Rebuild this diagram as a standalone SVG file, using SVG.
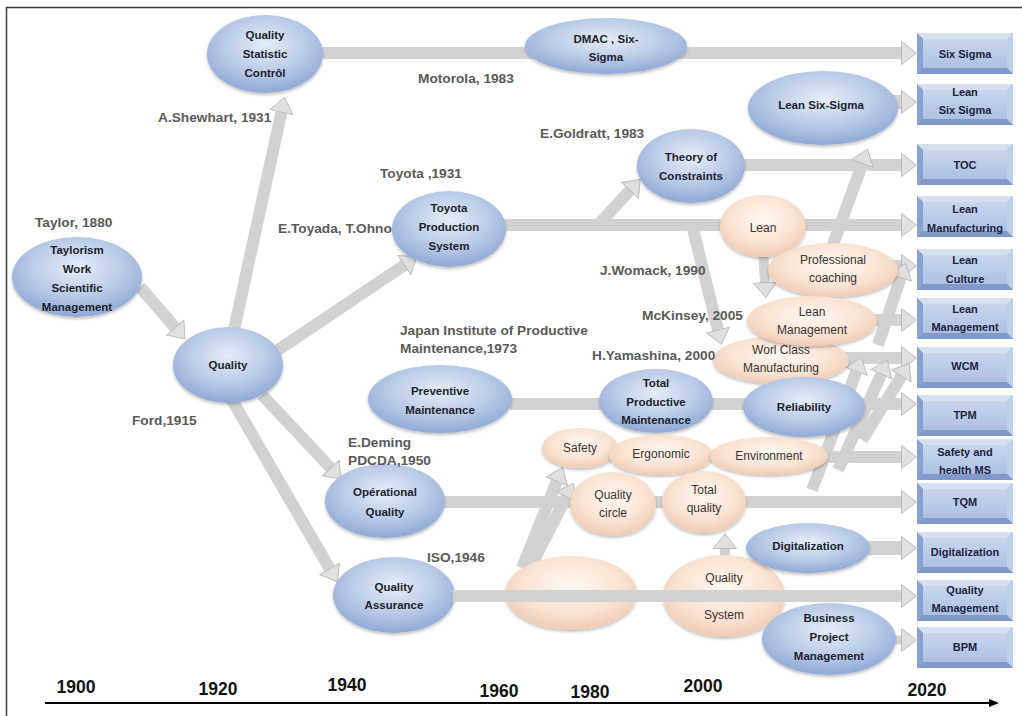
<svg xmlns="http://www.w3.org/2000/svg" xmlns:xlink="http://www.w3.org/1999/xlink" width="1022" height="716" viewBox="0 0 1022 716">
<style>
.eb{fill:url(#gBlue);filter:url(#sh)}
.ep{fill:url(#gPeach);filter:url(#sh)}
.n{font-family:"Liberation Sans",Arial,sans-serif;font-weight:bold;font-size:11.5px;fill:#1c1f2e;text-anchor:middle}
.p{font-family:"Liberation Sans",Arial,sans-serif;font-size:12px;fill:#3a322e;text-anchor:middle}
.b{font-family:"Liberation Sans",Arial,sans-serif;font-weight:bold;font-size:11px;fill:#1a2340;text-anchor:middle}
.l{font-family:"Liberation Sans",Arial,sans-serif;font-weight:bold;font-size:13.7px;fill:#5a5a5a}
.y{font-family:"Liberation Sans",Arial,sans-serif;font-weight:bold;font-size:17.5px;fill:#111;text-anchor:middle}
.c{stroke:#d2d2d2;stroke-width:12;fill:none;marker-end:url(#ah)}
</style>
<defs>
<radialGradient id="gBlue" cx="50%" cy="38%" r="62%">
<stop offset="0" stop-color="#e6edf8"/><stop offset="0.55" stop-color="#bccde9"/><stop offset="1" stop-color="#90a9d5"/>
</radialGradient>
<radialGradient id="gPeach" cx="50%" cy="40%" r="62%">
<stop offset="0" stop-color="#fff8f2"/><stop offset="0.6" stop-color="#fbe4d4"/><stop offset="1" stop-color="#efc9b0"/>
</radialGradient>
<linearGradient id="gBox" x1="0" y1="0" x2="0" y2="1">
<stop offset="0" stop-color="#c9d6ee"/><stop offset="1" stop-color="#adc1e4"/>
</linearGradient>
<filter id="sh" x="-10%" y="-10%" width="120%" height="130%">
<feDropShadow dx="0" dy="2" stdDeviation="1.5" flood-color="#000" flood-opacity="0.25"/>
</filter>
<marker id="ah" viewBox="0 0 16 24" refX="4" refY="12" markerWidth="16" markerHeight="24" markerUnits="userSpaceOnUse" orient="auto">
<path d="M0.5,0.5 L15.5,12 L0.5,23.5 Z" fill="#e0e0e0" stroke="#bdbdbd" stroke-width="1"/>
</marker>
<marker id="axh" viewBox="0 0 10 8" refX="1" refY="4" markerWidth="10" markerHeight="8" markerUnits="userSpaceOnUse" orient="auto">
<path d="M0,0 L10,4 L0,8 Z" fill="#000"/>
</marker>
<g id="box">
<rect x="0" y="0" width="96" height="41" fill="#9db3db"/>
<polygon points="0,0 96,0 90,6 6,6" fill="#d6e0f1"/>
<polygon points="0,0 6,6 6,35 0,41" fill="#8aa2cf"/>
<polygon points="96,0 96,41 90,35 90,6" fill="#c0cfea"/>
<polygon points="0,41 6,35 90,35 96,41" fill="#8199c9"/>
<rect x="6" y="6" width="84" height="29" fill="url(#gBox)"/>
</g>
</defs>
<rect x="0" y="0" width="1022" height="716" fill="#fff"/>
<rect x="6.5" y="7.5" width="1040" height="740" fill="none" stroke="#3a3a3a" stroke-width="1.5"/>

<g id="connectors">
<line class="c" x1="140" y1="287" x2="177.5" y2="330.2"/>
<line class="c" x1="234" y1="330" x2="282.2" y2="108.7"/>
<line class="c" x1="275" y1="352" x2="407.2" y2="263.2"/>
<line class="c" x1="262" y1="395" x2="333.1" y2="470.5"/>
<line class="c" x1="232" y1="400" x2="331.5" y2="571.8"/>
<line class="c" x1="320" y1="53" x2="905" y2="53"/>
<line class="c" x1="890" y1="102" x2="905" y2="102" style="stroke-width:14"/>
<line class="c" x1="743" y1="165" x2="905" y2="165"/>
<line class="c" x1="503" y1="225" x2="905" y2="225"/>
<line class="c" x1="598" y1="225" x2="632.4" y2="187.8"/>
<line class="c" x1="692" y1="225" x2="718.8" y2="333.4"/>
<line class="c" x1="763" y1="250" x2="765.2" y2="286" style="stroke-width:10"/>
<line class="c" x1="822" y1="275" x2="863.6" y2="160.2"/>
<line class="c" x1="890" y1="266" x2="905" y2="266"/>
<line class="c" x1="870" y1="320" x2="905" y2="320"/>
<line class="c" x1="845" y1="358" x2="905" y2="358"/>
<line class="c" x1="510" y1="404" x2="905" y2="404"/>
<line class="c" x1="826" y1="457" x2="905" y2="457"/>
<line class="c" x1="443" y1="502" x2="905" y2="502"/>
<line class="c" x1="866" y1="548" x2="905" y2="548" style="stroke-width:14"/>
<line class="c" x1="890" y1="640" x2="905" y2="640" style="stroke-width:9"/>
<line class="c" x1="812" y1="490" x2="857.5" y2="368.2"/>
<line class="c" x1="838" y1="470" x2="882.7" y2="370.9"/>
<line class="c" x1="862" y1="440" x2="903.2" y2="373.1"/>
<line class="c" x1="878" y1="345" x2="901.8" y2="274.3"/>
<line class="c" x1="522" y1="568" x2="558.2" y2="478.1"/>
<line class="c" x1="530" y1="568" x2="568.1" y2="493.6"/>
<line class="c" x1="725" y1="562" x2="725" y2="545" style="stroke-width:10"/>
</g>

<g id="n-taylorism"><ellipse class="eb" cx="77" cy="277" rx="65" ry="40"/>
<text class="n" x="77" y="254">Taylorism</text><text class="n" x="77" y="273">Work</text><text class="n" x="77" y="292">Scientific</text><text class="n" x="77" y="311">Management</text></g>
<g id="n-quality"><ellipse class="eb" cx="228" cy="365" rx="55" ry="38"/><text class="n" x="228" y="369">Quality</text></g>
<g id="n-qsc"><ellipse class="eb" cx="265" cy="54" rx="58" ry="39"/>
<text class="n" x="265" y="39">Quality</text><text class="n" x="265" y="58">Statistic</text><text class="n" x="265" y="77">Contrôl</text></g>
<g id="n-tps"><ellipse class="eb" cx="449" cy="229" rx="57" ry="38"/>
<text class="n" x="449" y="212">Toyota</text><text class="n" x="449" y="231">Production</text><text class="n" x="449" y="250">System</text></g>
<g id="n-dmac"><ellipse class="eb" cx="606" cy="46" rx="81" ry="28"/>
<text class="n" x="606" y="43">DMAC , Six-</text><text class="n" x="606" y="61">Sigma</text></g>
<g id="n-lss"><ellipse class="eb" cx="823" cy="108" rx="75" ry="37"/><text class="n" x="821" y="109">Lean Six-Sigma</text></g>
<g id="n-toc"><ellipse class="eb" cx="691" cy="166" rx="54" ry="37"/>
<text class="n" x="691" y="161">Theory of</text><text class="n" x="691" y="180">Constraints</text></g>
<g id="n-lean"><ellipse class="ep" cx="763" cy="226" rx="43" ry="31"/><text class="p" x="763" y="232">Lean</text></g>
<g id="n-pc"><ellipse class="ep" cx="833" cy="270" rx="65" ry="27"/>
<text class="p" x="833" y="264">Professional</text><text class="p" x="833" y="282">coaching</text></g>
<g id="n-wcm"><ellipse class="ep" cx="781" cy="360" rx="68" ry="24"/>
<text class="p" x="781" y="354">Worl Class</text><text class="p" x="781" y="372">Manufacturing</text></g>
<g id="n-lm"><ellipse class="ep" cx="812" cy="321" rx="65" ry="25"/>
<text class="p" x="812" y="316">Lean</text><text class="p" x="812" y="334">Management</text></g>
<g id="n-pm"><ellipse class="eb" cx="440" cy="399" rx="72" ry="34"/>
<text class="n" x="440" y="395">Preventive</text><text class="n" x="440" y="414">Maintenance</text></g>
<g id="n-tpm"><ellipse class="eb" cx="656" cy="401" rx="57" ry="32"/>
<text class="n" x="656" y="387">Total</text><text class="n" x="656" y="406">Productive</text><text class="n" x="656" y="424">Maintenance</text></g>
<g id="n-reliability"><ellipse class="eb" cx="804" cy="407" rx="61" ry="30"/><text class="n" x="804" y="411">Reliability</text></g>
<g id="n-safety"><ellipse class="ep" cx="580" cy="448" rx="38" ry="20"/><text class="p" x="580" y="452">Safety</text></g>
<g id="n-ergonomic"><ellipse class="ep" cx="661" cy="455" rx="52" ry="20"/><text class="p" x="661" y="458">Ergonomic</text></g>
<g id="n-environment"><ellipse class="ep" cx="769" cy="456" rx="59" ry="19"/><text class="p" x="769" y="460">Environment</text></g>
<g id="n-oq"><ellipse class="eb" cx="385" cy="501" rx="60" ry="37"/>
<text class="n" x="385" y="496">Opérational</text><text class="n" x="385" y="516">Quality</text></g>
<g id="n-qc"><ellipse class="ep" cx="613" cy="504" rx="43" ry="32"/>
<text class="p" x="613" y="499">Quality</text><text class="p" x="613" y="517">circle</text></g>
<g id="n-tq"><ellipse class="ep" cx="704" cy="502" rx="42" ry="31"/>
<text class="p" x="704" y="494">Total</text><text class="p" x="704" y="512">quality</text></g>
<g id="n-qa"><ellipse class="eb" cx="394" cy="595" rx="61" ry="38"/>
<text class="n" x="394" y="591">Quality</text><text class="n" x="394" y="609">Assurance</text></g>
<g id="n-empty"><ellipse class="ep" cx="571" cy="593" rx="66" ry="37"/></g>
<g id="n-qs"><ellipse class="ep" cx="724" cy="596" rx="61" ry="41"/>
<text class="p" x="724" y="582">Quality</text><text class="p" x="724" y="619">System</text></g>
<g id="n-dig"><ellipse class="eb" cx="808" cy="548" rx="62" ry="25"/><text class="n" x="808" y="550">Digitalization</text></g>
<g id="n-bpm"><ellipse class="eb" cx="829" cy="639" rx="67" ry="36"/>
<text class="n" x="829" y="622">Business</text><text class="n" x="829" y="641">Project</text><text class="n" x="829" y="660">Management</text></g>

<g id="connectors-front">
<line class="c" x1="453" y1="596" x2="905" y2="596"/>
</g>

<g id="boxes">
<g id="b-sixsigma"><use href="#box" x="917" y="33"/><text class="b" x="965" y="58">Six Sigma</text></g>
<g id="b-lss"><use href="#box" x="917" y="84"/><text class="b" x="965" y="96">Lean</text><text class="b" x="965" y="114">Six Sigma</text></g>
<g id="b-toc"><use href="#box" x="917" y="144"/><text class="b" x="965" y="169">TOC</text></g>
<g id="b-leanmfg"><use href="#box" x="917" y="196"/><text class="b" x="965" y="213">Lean</text><text class="b" x="965" y="232">Manufacturing</text></g>
<g id="b-leanculture"><use href="#box" x="917" y="249"/><text class="b" x="965" y="264">Lean</text><text class="b" x="965" y="283">Culture</text></g>
<g id="b-leanmgmt"><use href="#box" x="917" y="298"/><text class="b" x="965" y="313">Lean</text><text class="b" x="965" y="331">Management</text></g>
<g id="b-wcm"><use href="#box" x="917" y="347"/><text class="b" x="965" y="370">WCM</text></g>
<g id="b-tpm"><use href="#box" x="917" y="395"/><text class="b" x="965" y="419">TPM</text></g>
<g id="b-safety"><use href="#box" x="917" y="439"/><text class="b" x="965" y="456">Safety and</text><text class="b" x="965" y="474">health MS</text></g>
<g id="b-tqm"><use href="#box" x="917" y="483"/><text class="b" x="965" y="506">TQM</text></g>
<g id="b-dig"><use href="#box" x="917" y="532"/><text class="b" x="965" y="556">Digitalization</text></g>
<g id="b-qm"><use href="#box" x="917" y="580"/><text class="b" x="965" y="594">Quality</text><text class="b" x="965" y="612">Management</text></g>
<g id="b-bpm"><use href="#box" x="917" y="627"/><text class="b" x="965" y="651">BPM</text></g>
</g>

<g id="labels">
<text class="l" x="35" y="227">Taylor, 1880</text>
<text class="l" x="158" y="122">A.Shewhart, 1931</text>
<text class="l" x="418" y="83">Motorola, 1983</text>
<text class="l" x="380" y="178">Toyota ,1931</text>
<text class="l" x="278" y="233">E.Toyada, T.Ohno</text>
<text class="l" x="540" y="138">E.Goldratt, 1983</text>
<text class="l" x="600" y="275">J.Womack, 1990</text>
<text class="l" x="642" y="320">McKinsey, 2005</text>
<text class="l" x="592" y="360">H.Yamashina, 2000</text>
<text class="l" x="400" y="335">Japan Institute of Productive</text>
<text class="l" x="400" y="353">Maintenance,1973</text>
<text class="l" x="132" y="425">Ford,1915</text>
<text class="l" x="348" y="447">E.Deming</text>
<text class="l" x="348" y="465">PDCDA,1950</text>
<text class="l" x="427" y="562">ISO,1946</text>
</g>

<g id="axis">
<line x1="45" y1="703" x2="990" y2="703" stroke="#000" stroke-width="2" marker-end="url(#axh)"/>
<text class="y" x="76" y="693">1900</text>
<text class="y" x="218" y="695">1920</text>
<text class="y" x="347" y="691">1940</text>
<text class="y" x="499" y="697">1960</text>
<text class="y" x="590" y="698">1980</text>
<text class="y" x="703" y="692">2000</text>
<text class="y" x="927" y="696">2020</text>
</g>
</svg>
